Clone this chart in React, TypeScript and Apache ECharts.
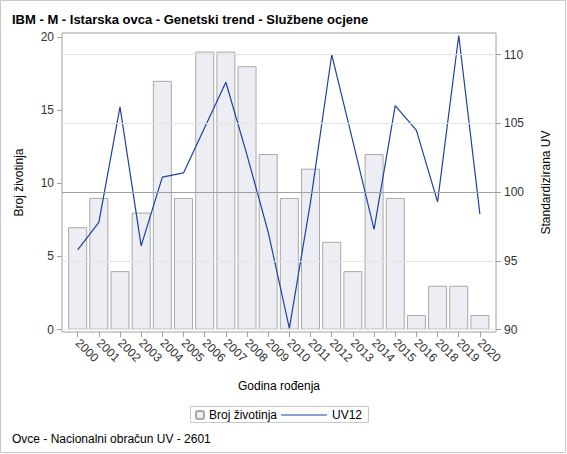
import React, { useRef, useEffect } from "react";
import * as echarts from "echarts";

const years = [
  "2000", "2001", "2002", "2003", "2004", "2005", "2006", "2007", "2008", "2009",
  "2010", "2011", "2012", "2013", "2014", "2015", "2016", "2018", "2019", "2020",
];
const brojZivotinja = [7, 9, 4, 8, 17, 9, 19, 19, 18, 12, 9, 11, 6, 4, 12, 9, 1, 3, 3, 1];
const uv12 = [
  95.8, 97.8, 106.2, 96.1, 101.1, 101.4, 104.7, 108.0, 102.7, 97.1,
  90.1, 99.3, 110.0, 103.7, 97.3, 106.3, 104.5, 99.3, 111.4, 98.4,
];
const leftTicks = [0, 5, 10, 15, 20];
const rightTicks = [90, 95, 100, 105, 110];
const refValue = 100;

const FONT = "'Liberation Sans', Arial, sans-serif";
const TEXT = "#333";
const AXIS_GRAY = "#a0a0a0";
const LINE_BLUE = "#1f40a4";

function buildOption() {
  const idx = years.map((_, i) => i);
  return {
    animation: false,
    backgroundColor: "#fff",
    textStyle: { fontFamily: FONT },
    title: [
      {
        text: "IBM - M - Istarska ovca - Genetski trend - Službene ocjene",
        left: 7,
        top: 8,
        textStyle: { fontFamily: FONT, fontSize: 13, fontWeight: "bold", color: "#000" },
      },
      {
        text: "Ovce - Nacionalni obračun UV - 2601",
        left: 7,
        top: 428,
        textStyle: { fontFamily: FONT, fontSize: 12, fontWeight: "normal", color: "#000" },
      },
    ],
    legend: [
      {
        data: ["Broj životinja"],
        left: 195,
        top: 409,
        itemWidth: 8,
        itemHeight: 8,
        padding: 0,
        textStyle: { fontFamily: FONT, fontSize: 12, color: "#000" },
      },
      {
        data: [{ name: "UV12", icon: "rect" }],
        left: 281,
        top: 409,
        itemWidth: 46,
        itemHeight: 1,
        padding: 0,
        textStyle: { fontFamily: FONT, fontSize: 12, color: "#000" },
      },
    ],
    grid: {
      left: 62,
      right: 71,
      top: 33,
      bottom: 122,
      show: true,
      borderColor: AXIS_GRAY,
      borderWidth: 1,
      backgroundColor: "transparent",
    },
    xAxis: {
      type: "value",
      min: -0.74,
      max: 19.76,
      name: "Godina rođenja",
      nameLocation: "middle",
      nameGap: 48,
      nameTextStyle: { fontFamily: FONT, fontSize: 12, color: "#000" },
      axisLine: { show: false, onZero: false },
      axisTick: { show: true, inside: false, length: 5, lineStyle: { color: AXIS_GRAY }, customValues: idx },
      axisLabel: {
        customValues: idx,
        rotate: -45,
        margin: 9,
        color: TEXT,
        fontSize: 12,
        fontFamily: FONT,
        formatter: (v: number) => years[Math.round(v)] ?? "",
      },
      splitLine: { show: false },
    },
    yAxis: [
      {
        type: "value",
        min: -0.16,
        max: 20.27,
        name: "Broj životinja",
        nameLocation: "middle",
        nameRotate: 90,
        nameGap: 37,
        nameTextStyle: { fontFamily: FONT, fontSize: 12, color: "#000" },
        axisLine: { show: false, onZero: false },
        axisTick: { show: true, inside: false, length: 5, lineStyle: { color: AXIS_GRAY }, customValues: leftTicks },
        axisLabel: { customValues: leftTicks, color: TEXT, fontSize: 12, fontFamily: FONT, margin: 8 },
        splitLine: { show: false },
      },
      {
        type: "value",
        position: "right",
        min: 89.83,
        max: 111.58,
        name: "Standardizirana UV",
        nameLocation: "middle",
        nameRotate: 90,
        nameGap: 44,
        nameTextStyle: { fontFamily: FONT, fontSize: 12, color: "#000" },
        axisLine: { show: false, onZero: false },
        axisTick: { show: true, inside: false, length: 5, lineStyle: { color: AXIS_GRAY }, customValues: rightTicks },
        axisLabel: { customValues: rightTicks, color: TEXT, fontSize: 12, fontFamily: FONT, margin: 8 },
        splitLine: { show: false },
      },
    ],
    series: [
      {
        name: "Broj životinja",
        type: "bar",
        xAxisIndex: 0,
        yAxisIndex: 0,
        barWidth: 19,
        data: brojZivotinja.map((v, i) => [i, v]),
        itemStyle: { color: "#eceef3", borderColor: "#a9a9a9", borderWidth: 1 },
        z: 2,
      },
      {
        name: "UV12",
        type: "line",
        xAxisIndex: 0,
        yAxisIndex: 1,
        symbol: "none",
        data: uv12.map((v, i) => [i, v]),
        lineStyle: { color: LINE_BLUE, width: 1.2 },
        itemStyle: { color: LINE_BLUE },
        z: 3,
        markLine: {
          silent: true,
          symbol: "none",
          label: { show: false },
          animation: false,
          data: [
            ...rightTicks
              .filter((t) => t !== refValue)
              .map((t) => ({ yAxis: t, lineStyle: { color: "#e4e4e4", type: "solid", width: 1 } })),
            { yAxis: refValue, lineStyle: { color: AXIS_GRAY, type: "solid", width: 1 } },
          ],
        },
      },
    ],
    graphic: [
      {
        type: "rect",
        shape: { x: 0.5, y: 0.5, width: 565, height: 452 },
        style: { fill: "none", stroke: "#c8c8c8", lineWidth: 1 },
        silent: true,
      },
      {
        type: "rect",
        shape: { x: 190.5, y: 406.5, width: 178, height: 16 },
        style: { fill: "none", stroke: "#c8c8c8", lineWidth: 1 },
        silent: true,
      },
    ],
  };
}

export default function App() {
  const chartRef = useRef<HTMLDivElement>(null);

  useEffect(() => {
    if (!chartRef.current) return;
    const chart = echarts.init(chartRef.current, undefined, { renderer: "svg" });
    // eslint-disable-next-line @typescript-eslint/no-explicit-any
    chart.setOption(buildOption() as any);
    return () => chart.dispose();
  }, []);

  return (
    <div
      ref={chartRef}
      style={{ position: "absolute", left: 0, top: 0, width: 567, height: 454 }}
    />
  );
}
